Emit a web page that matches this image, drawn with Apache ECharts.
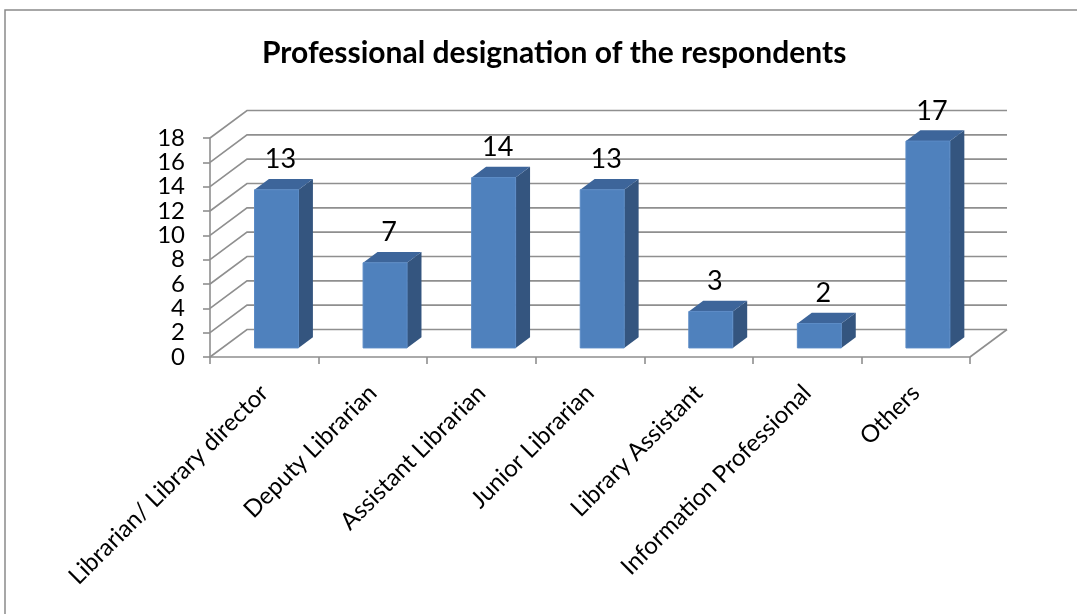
<!DOCTYPE html>
<html>
<head>
<meta charset="utf-8">
<script src="https://cdn.jsdelivr.net/npm/echarts@6/dist/echarts.min.js"></script>
<style>
  html, body { margin: 0; padding: 0; background: #ffffff; }
  #chart { width: 1077px; height: 614px; }
</style>
</head>
<body>
<div id="chart"></div>
<script>
// Respondents by professional designation
var categories = [
  'Librarian/ Library director',
  'Deputy Librarian',
  'Assistant Librarian',
  'Junior Librarian',
  'Library Assistant',
  'Information Professional',
  'Others'
];
var counts = [13, 7, 14, 13, 3, 2, 17];
var yTicks = [0, 2, 4, 6, 8, 10, 12, 14, 16, 18];

// 3D look: total depth of the floor/walls and where the columns sit in it
var DEPTH = [37, -27.5];
var BAR_FRONT = 0.33;   // fraction of depth where the column front face is
var BAR_BACK = 0.72;    // fraction of depth where the column back face is
var BAR_WIDTH = 0.405;  // fraction of category band
var GRID_COLOR = '#8f8f8f';
var FONT = 'Lato';

var chart = echarts.init(document.getElementById('chart'), null, { renderer: 'canvas' });

function wallRender(params, api) {
  var cs = params.coordSys;
  var v = api.value(0);
  var p = api.coord([0, v]);
  var x0 = cs.x, x1 = cs.x + cs.width, y = p[1];
  var children = [{
    type: 'polyline',
    shape: { points: [[x0, y], [x0 + DEPTH[0], y + DEPTH[1]], [x1 + DEPTH[0], y + DEPTH[1]]] },
    style: { stroke: GRID_COLOR, lineWidth: 1.6, fill: null }
  }];
  if (v === 0) {
    children.push({
      type: 'line',
      shape: { x1: x1, y1: y, x2: x1 + DEPTH[0], y2: y + DEPTH[1] },
      style: { stroke: GRID_COLOR, lineWidth: 1.6 }
    });
  }
  return { type: 'group', children: children, silent: true };
}

function barRender(params, api) {
  var idx = api.value(0);
  var val = api.value(1);
  var band = api.size([1, 0])[0];
  var w = band * BAR_WIDTH;
  var base = api.coord([idx, 0]);
  var top = api.coord([idx, val]);
  var fx = DEPTH[0] * BAR_FRONT, fy = DEPTH[1] * BAR_FRONT;
  var bx = DEPTH[0] * BAR_BACK, by = DEPTH[1] * BAR_BACK;
  var l = base[0] - w / 2 + fx, r = base[0] + w / 2 + fx;
  var yb = base[1] + fy, yt = top[1] + fy;
  var dx = bx - fx, dy = by - fy;
  return {
    type: 'group',
    children: [
      { // side face
        type: 'polygon',
        shape: { points: [[r, yb], [r + dx, yb + dy], [r + dx, yt + dy], [r, yt]] },
        style: { fill: '#34557f' }
      },
      { // top face
        type: 'polygon',
        shape: { points: [[l, yt], [l + dx, yt + dy], [r + dx, yt + dy], [r, yt]] },
        style: { fill: '#3d659a' }
      },
      { // front face
        type: 'rect',
        shape: { x: l, y: yt, width: w, height: yb - yt },
        style: { fill: '#4f81bd', stroke: '#5b8bc6', lineWidth: 1 }
      },
      { // value label
        type: 'text',
        style: {
          text: String(val),
          x: (l + r) / 2 + 4,
          y: yt - 30,
          align: 'center',
          verticalAlign: 'middle',
          fill: '#000000',
          font: '27px ' + FONT
        }
      }
    ]
  };
}

var option = {
  backgroundColor: '#ffffff',
  animation: false,
  title: {
    text: 'Professional designation of the respondents',
    left: 257,
    top: 33,
    textStyle: { fontFamily: FONT, fontWeight: 'bold', fontSize: 30, color: '#000000' }
  },
  grid: { left: 210, right: 107, top: 138, bottom: 257, containLabel: false },
  xAxis: {
    type: 'category',
    data: categories,
    boundaryGap: true,
    axisLine: { show: true, lineStyle: { color: GRID_COLOR, width: 1.6 } },
    axisTick: { show: true, alignWithLabel: false, length: 7, lineStyle: { color: GRID_COLOR, width: 1.6 } },
    axisLabel: {
      rotate: 45,
      interval: 0,
      margin: 32,
      fontFamily: FONT,
      fontSize: 24,
      color: '#000000'
    },
    splitLine: { show: false }
  },
  yAxis: {
    type: 'value',
    min: 0,
    max: 18,
    interval: 2,
    axisLine: { show: true, lineStyle: { color: GRID_COLOR, width: 1.6 } },
    axisTick: { show: true, length: 7, lineStyle: { color: GRID_COLOR, width: 1.6 } },
    axisLabel: { margin: 25, fontFamily: FONT, fontSize: 24, color: '#000000' },
    splitLine: { show: false }
  },
  graphic: [{
    type: 'polyline',
    shape: { points: [[5, 614], [5, 10], [1077, 10]] },
    style: { stroke: '#8a8a8a', lineWidth: 1.5, fill: null },
    silent: true
  }],
  series: [
    {
      name: 'walls',
      type: 'custom',
      renderItem: wallRender,
      data: yTicks.map(function (t) { return [t]; }),
      encode: { y: 0 },
      z: 1,
      silent: true
    },
    {
      name: 'Respondents',
      type: 'custom',
      renderItem: barRender,
      data: counts.map(function (c, i) { return [i, c]; }),
      encode: { x: 0, y: 1 },
      z: 2
    }
  ]
};

chart.setOption(option);
</script>
</body>
</html>
